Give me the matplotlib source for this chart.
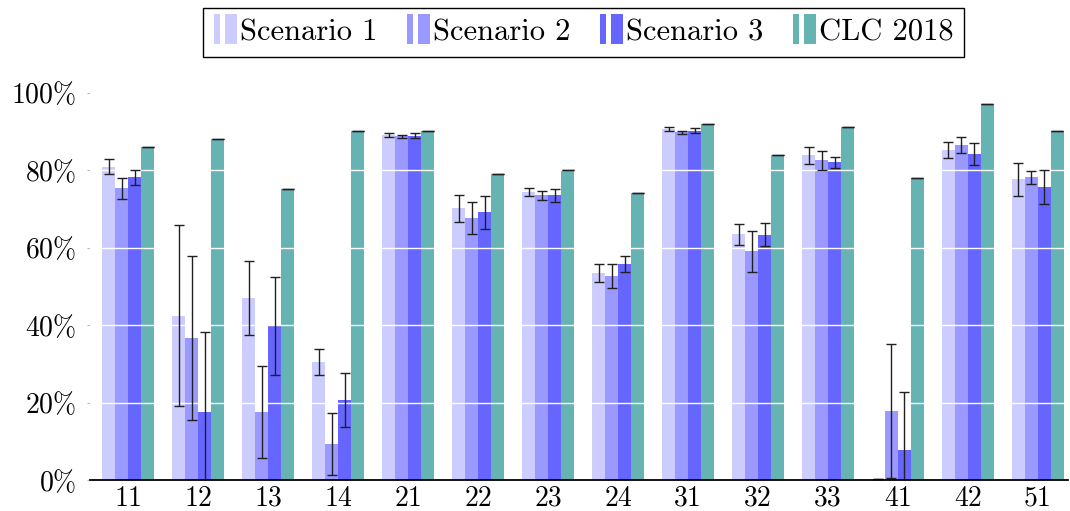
import matplotlib
matplotlib.use("Agg")
import matplotlib.pyplot as plt
import matplotlib.patches as mpatches
from matplotlib.legend_handler import HandlerBase
import numpy as np

classes = ["11", "12", "13", "14", "21", "22", "23", "24", "31", "32", "33", "41", "42", "51"]
series = ["Scenario 1", "Scenario 2", "Scenario 3", "CLC 2018"]

scen1 = [80.9, 42.4, 46.9, 30.4, 89.0, 70.1, 74.4, 53.4, 90.5, 63.4, 83.8, 0.2, 85.2, 77.6]
scen1_err = [2.0, 23.3, 9.6, 3.4, 0.5, 3.4, 1.0, 2.3, 0.5, 2.8, 2.2, 0.0, 2.1, 4.3]
scen2 = [75.3, 36.7, 17.5, 9.4, 88.7, 67.6, 73.5, 52.7, 89.8, 59.0, 82.5, 17.8, 86.5, 78.1]
scen2_err = [2.7, 21.2, 11.8, 8.0, 0.4, 4.1, 1.2, 3.1, 0.4, 5.4, 2.5, 17.2, 2.1, 1.6]
scen3 = [78.1, 17.6, 39.8, 20.6, 88.9, 69.1, 73.5, 55.7, 90.2, 63.3, 82.0, 7.7, 84.1, 75.6]
scen3_err = [2.0, 20.7, 12.7, 6.9, 0.7, 4.2, 1.7, 2.1, 0.6, 3.0, 1.5, 15.0, 2.9, 4.3]
clc = [86, 88, 75, 90, 90, 79, 80, 74, 92, 84, 91, 78, 97, 90]

colors = ["#ccccff", "#9999ff", "#6666ff", "#66b3b3"]

plt.rcParams["mathtext.fontset"] = "cm"
plt.rcParams["font.family"] = ["cmr10", "DejaVu Serif"]
plt.rcParams["axes.formatter.use_mathtext"] = True


class TwoBarHandler(HandlerBase):
    def create_artists(self, legend, orig_handle, xdescent, ydescent,
                       width, height, fontsize, trans):
        c = orig_handle.get_facecolor()
        h = height * 1.4
        y0 = -ydescent - 0.15 * height
        r1 = mpatches.Rectangle((-xdescent, y0), width * 0.28, h,
                                facecolor=c, edgecolor="none", transform=trans)
        r2 = mpatches.Rectangle((-xdescent + width * 0.5, y0), width * 0.5, h,
                                facecolor=c, edgecolor="none", transform=trans)
        return [r1, r2]


fig = plt.figure(figsize=(10.7, 5.11), dpi=100)
ax = fig.add_axes([0.0841, 0.0607, 0.9140, 0.796])

x = np.arange(len(classes))
w = 0.186
vals = [scen1, scen2, scen3, clc]
errs = [scen1_err, scen2_err, scen3_err, [0] * len(clc)]
handles = []
for i, (v, e) in enumerate(zip(vals, errs)):
    pos = x + (i - 1.5) * w
    b = ax.bar(pos, v, w, color=colors[i], zorder=2, label=series[i])
    handles.append(b.patches[0])
    cap = 4.5 if i == 3 else 3.6
    ax.errorbar(pos, v, yerr=e, fmt="none", ecolor="#202020", elinewidth=1.0,
                capsize=cap, capthick=1.0, zorder=4)

ax.set_xlim(-0.55, 13.43)
ax.set_ylim(0, 105)
ax.set_yticks([0, 20, 40, 60, 80, 100])
ax.set_yticklabels([r"$\mathsf{%d}\%%$" % t for t in [0, 20, 40, 60, 80, 100]])
for t in ax.get_yticks()[1:]:
    ax.axhline(t, color="white", lw=1.0, zorder=3)

ax.set_xticks(x)
ax.set_xticklabels(classes)
ax.tick_params(axis="x", length=0, labelsize=20, pad=4)
ax.tick_params(axis="y", length=2, color="#bbbbbb", labelsize=20, pad=8)

for s in ["left", "right", "top"]:
    ax.spines[s].set_visible(False)
ax.spines["bottom"].set_linewidth(1.3)
ax.spines["bottom"].set_zorder(5)

leg = fig.legend(handles, series, loc="upper center", ncol=4,
                 bbox_to_anchor=(0.5453, 0.984), borderaxespad=0,
                 fontsize=22, frameon=True,
                 fancybox=False, edgecolor="black", framealpha=1,
                 handler_map={mpatches.Rectangle: TwoBarHandler()},
                 handlelength=0.75, handletextpad=0.1, columnspacing=0.97,
                 borderpad=0.35)
leg.get_frame().set_linewidth(1.0)

fig.savefig("out.png", dpi=100)
